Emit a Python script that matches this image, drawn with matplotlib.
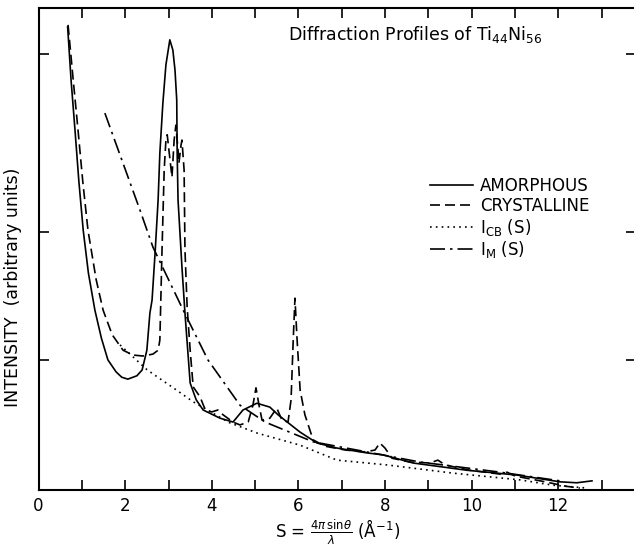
import matplotlib
matplotlib.use("Agg")
import matplotlib.pyplot as plt

plt.rcParams['font.family'] = ['DejaVu Sans']
plt.rcParams['mathtext.fontset'] = 'dejavusans'

# amorphous profile (S in 1/A, intensity in arbitrary units)
amor_s = [0.67, 0.75, 0.84, 0.93, 1.03, 1.15, 1.30, 1.45, 1.60, 1.79, 1.92, 2.06,
          2.27, 2.39, 2.50, 2.57, 2.62, 2.69, 2.76, 2.80, 2.87, 2.94, 3.03, 3.10,
          3.15, 3.19, 3.20, 3.22, 3.31, 3.38, 3.50, 3.64, 3.80, 4.19, 4.49, 4.72,
          5.04, 5.34, 5.53, 6.04, 6.43, 6.89, 7.58, 7.95, 8.65, 9.89, 11.05, 12.04,
          12.43, 12.78]
amor_i = [96.1, 85.0, 74.7, 64.0, 53.9, 45.0, 37.3, 31.5, 27.0, 24.5, 23.4, 23.0,
          23.7, 24.9, 29.0, 36.7, 39.4, 49.2, 60.2, 69.9, 80.3, 88.2, 93.4, 91.3,
          87.1, 80.9, 69.9, 60.2, 46.3, 36.7, 22.2, 18.7, 16.6, 14.9, 14.1, 16.6,
          18.0, 17.2, 15.6, 12.0, 9.75, 8.7, 7.7, 7.3, 5.6, 4.1, 3.1, 1.7,
          1.5, 1.9]

# crystalline profile
cryst_s = [0.68, 0.80, 0.91, 1.02, 1.14, 1.33, 1.49, 1.70, 1.95, 2.18, 2.41, 2.64,
           2.76, 2.80, 2.85, 2.90, 2.94, 2.97, 3.01, 3.08, 3.13, 3.17, 3.22, 3.24,
           3.29, 3.31, 3.36, 3.38, 3.43, 3.50, 3.57, 3.73, 3.85, 4.00, 4.14, 4.26,
           4.49, 4.65, 4.84, 4.95, 5.02, 5.09, 5.16, 5.34, 5.50, 5.62, 5.76, 5.83,
           5.88, 5.92, 5.97, 6.04, 6.15, 6.34, 6.61, 7.08, 7.54, 7.77, 7.88, 8.00,
           8.16, 8.58, 9.04, 9.22, 9.39, 9.96, 10.66, 10.82, 11.00, 11.70, 12.16, 12.50]
cryst_i = [96.5, 85.0, 74.7, 64.0, 53.9, 43.6, 37.3, 32.2, 29.0, 28.0, 27.8, 28.2,
           29.0, 31.1, 49.8, 66.4, 72.6, 73.7, 70.5, 64.9, 72.6, 75.7, 70.5, 67.8,
           71.6, 72.6, 66.4, 49.8, 38.0, 29.0, 21.4, 19.3, 16.6, 16.2, 16.6, 15.6,
           14.1, 13.5, 14.1, 17.6, 21.2, 17.6, 14.5, 14.9, 17.0, 14.5, 14.1, 18.7,
           31.1, 39.8, 31.1, 20.7, 15.6, 10.4, 9.1, 8.3, 7.9, 8.3, 9.75, 8.7,
           6.6, 5.8, 5.6, 6.2, 5.2, 4.1, 3.3, 3.7, 2.9, 1.7, 0.8, 0.4]

# coherent background I_CB(S)
icb_s = [1.88, 2.51, 3.11, 3.57, 4.40, 5.05, 6.04, 6.89, 8.05, 9.57, 11.12, 11.88, 12.67]
icb_i = [30.1, 24.9, 21.2, 18.3, 14.0, 11.8, 9.3, 6.2, 5.2, 3.5, 2.1, 1.0, 0.4]

# I_M(S)
im_s = [1.53, 2.34, 2.64, 3.34, 3.91, 4.65, 5.23, 6.34, 7.58, 8.81, 10.66, 12.04]
im_i = [78.2, 58.1, 50.4, 37.3, 27.0, 17.6, 14.1, 10.0, 7.9, 5.8, 3.7, 1.9]

fig = plt.figure(figsize=(6.34, 5.52), dpi=100)
ax = fig.add_axes([0.0609, 0.1123, 0.9425, 0.8732])

lw = 1.2
ax.plot(amor_s, amor_i, color='black', lw=lw, label='AMORPHOUS')
ax.plot(cryst_s, cryst_i, color='black', lw=lw, dashes=(6, 3), label='CRYSTALLINE')
ax.plot(icb_s, icb_i, color='black', lw=1.2, dashes=(1, 2.5), label=r'$\mathrm{I_{CB}}$ (S)')
ax.plot(im_s, im_i, color='black', lw=lw, dashes=(9, 3, 1.5, 3), label=r'$\mathrm{I_{M}}$ (S)')

ax.set_xlim(0, 13.8)
ax.set_ylim(0, 100)
ax.set_xticks(range(0, 13, 2))
ax.set_xticks(range(1, 14, 2), minor=True)
ax.set_yticks([27.0, 53.5, 90.5])
ax.set_yticklabels([])
ax.tick_params(axis='x', which='both', direction='in', length=7, width=1.2,
               top=True, labelsize=12, pad=5)
ax.tick_params(axis='y', direction='in', length=7, width=1.2, right=True)
for sp in ax.spines.values():
    sp.set_linewidth(1.5)

ax.set_xlabel(r'S = $\frac{4\pi\,\mathrm{sin}\theta}{\lambda}$ ($\mathrm{\AA^{-1}}$)',
              fontsize=12, labelpad=2)
ax.set_ylabel('INTENSITY  (arbitrary units)', fontsize=12.5)
ax.yaxis.set_label_coords(-0.028, 0.42)

ax.text(0.418, 0.945, r'Diffraction Profiles of Ti$_{44}$Ni$_{56}$', transform=ax.transAxes,
        fontsize=12.5, ha='left', va='center')

ax.legend(loc='upper left', bbox_to_anchor=(0.655, 0.649), frameon=False,
          fontsize=12, handlelength=2.6, handletextpad=0.4, labelspacing=0.1,
          borderpad=0, borderaxespad=0)

fig.savefig('out.png', dpi=100)
